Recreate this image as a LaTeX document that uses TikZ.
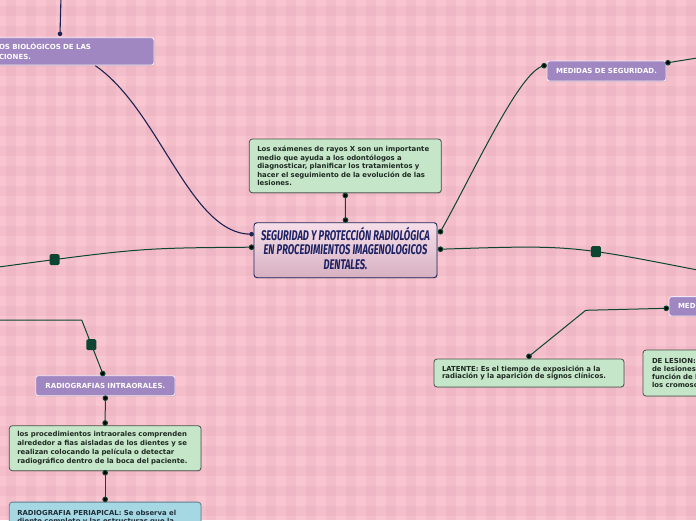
\documentclass[tikz,border=0pt]{standalone}
\usepackage{fontspec}
\usepackage{graphicx}
\setmainfont{DejaVu Sans}
\newfontfamily\titlefont{Fira Sans}
\usetikzlibrary{shadows,calc}
\definecolor{bgpink}{HTML}{F8C5D0}
\definecolor{stripe}{HTML}{E3A5B5}
\definecolor{purpfill}{HTML}{A087C2}
\definecolor{purpborder}{HTML}{F2EAF6}
\definecolor{gfill}{HTML}{C6E6C9}
\definecolor{gborder}{HTML}{4B504B}
\definecolor{gtext}{HTML}{1E2A22}
\definecolor{bfill}{HTML}{A6D8E4}
\definecolor{bborder}{HTML}{5F7F8C}
\definecolor{btext}{HTML}{1F2F3A}
\definecolor{conn}{HTML}{0C4632}
\definecolor{navy}{HTML}{1B2352}
\definecolor{maintop}{HTML}{F6DFE9}
\definecolor{mainbot}{HTML}{D6B0C1}
\definecolor{mainborder}{HTML}{1D2558}
\definecolor{maintext}{HTML}{1C2264}
\pgfdeclarelayer{bglayer}
\pgfdeclarelayer{lines}
\pgfdeclarelayer{top}
\pgfsetlayers{bglayer,lines,main,top}
\tikzset{
  shad/.style={drop shadow={shadow xshift=0.6pt, shadow yshift=-1pt, opacity=0.25}},
  purp/.style={draw=purpborder, line width=0.9pt, fill=purpfill, rounded corners=2.5pt,
    text=white, font=\bfseries\fontsize{7}{9.4}\selectfont, inner ysep=0pt, shad},
  gbox/.style={draw=gborder, line width=0.8pt, fill=gfill, rounded corners=3pt,
    text=gtext, align=left, inner ysep=0pt, inner xsep=8pt, shad},
  bbox/.style={gbox, draw=bborder, fill=bfill, text=btext},
  mainbox/.style={draw=mainborder, line width=0.9pt, top color=maintop, bottom color=mainbot,
    rounded corners=3pt, text=maintext, inner sep=0pt, shad},
  conn/.style={draw=conn, line width=1pt},
  navyconn/.style={draw=navy, line width=1.1pt},
  sqmark/.style={fill=conn, rounded corners=1.5pt, minimum width=10pt, minimum height=11pt, inner sep=0pt},
}
\begin{document}
\begin{tikzpicture}[x=1pt,y=-1pt]
\useasboundingbox (0,0) rectangle (696,520);
\begin{pgfonlayer}{bglayer}
\fill[bgpink] (0,0) rectangle (696,520);
\foreach \i in {0,...,34} \fill[stripe, opacity=0.22] (\i*20+6,0) rectangle ++(10,520);
\foreach \j in {0,...,26} \fill[stripe, opacity=0.22] (0,\j*20+6) rectangle ++(696,10);
\end{pgfonlayer}

% nodes
\node[purp, minimum width=174pt, minimum height=27.3pt, inner xsep=19pt, text width=136pt, align=left] (tl) at (67,51.35)
  {OS BIOLÓGICOS DE LAS\\CIONES.};
\node[purp, minimum width=119pt, minimum height=20pt, inner xsep=0pt] (medidas) at (606.5,71) {MEDIDAS DE SEGURIDAD.};
\node[purp, minimum width=111pt, minimum height=19.3pt, inner xsep=9pt, text width=93pt, align=left] (medi) at (724.5,306.3) {MEDI};
\node[purp, minimum width=139.3pt, minimum height=20pt, inner xsep=0pt] (intra) at (105.35,385.7) {RADIOGRAFIAS INTRAORALES.};

\node[gbox, text width=176pt, minimum height=53.7pt, font=\bfseries\fontsize{6.9}{8.6}\selectfont] (exam) at (345.3,165.9)
  {Los exámenes de rayos X son un importante\\medio que ayuda a los odontólogos a\\diagnosticar, planificar los tratamientos y\\hacer el seguimiento de la evolución de las\\lesiones.};
\node[gbox, text width=174pt, minimum height=28pt, font=\bfseries\fontsize{6.9}{7.8}\selectfont] (lat) at (529,373)
  {LATENTE: Es el tiempo de exposición a la\\radiación y la aparición de signos clínicos.};
\node[gbox, inner xsep=9pt, text width=119pt, minimum height=46pt, font=\bfseries\fontsize{6.9}{7.9}\selectfont] (lesion) at (711.5,373)
  {DE LESION:\\de lesiones\\función de l\\los cromoso};
\node[gbox, text width=175.7pt, minimum height=45pt, font=\bfseries\fontsize{6.9}{8.8}\selectfont] (proc) at (105.15,448.2)
  {los procedimientos intraorales comprenden\\alrededor a fias aisladas de los dientes y se\\realizan colocando la película o detectar\\radiográfico dentro de la boca del paciente.};
\node[bbox, anchor=north, text width=175.7pt, inner ysep=8pt, font=\bfseries\fontsize{6.9}{8.6}\selectfont] (peri) at (105.15,501.7)
  {RADIOGRAFIA PERIAPICAL: Se observa el\\diente completo y las estructuras que la\\\mbox{}\\\mbox{}};

\node[mainbox, minimum width=183pt, minimum height=55pt] (main) at (345.5,250.2)
  {\scalebox{0.67}[1]{\titlefont\bfseries\itshape\fontsize{14}{14.5}\selectfont
   \begin{tabular}{@{}c@{}}SEGURIDAD Y PROTECCIÓN RADIOLÓGICA\\EN PROCEDIMIENTOS IMAGENOLOGICOS\\DENTALES.\end{tabular}}};

% anchor points
\coordinate (tlTop) at (61,-3);
\coordinate (tlD) at ([xshift=-7pt,yshift=3.4pt]tl.north);
\coordinate (tlB) at ([xshift=28pt]tl.south);
\coordinate (mL1) at ([xshift=-2pt,yshift=16pt]main.west);
\coordinate (mL2) at ([xshift=-2pt,yshift=3pt]main.west);
\coordinate (mR1) at ([xshift=3pt,yshift=18.5pt]main.east);
\coordinate (mR2) at ([xshift=3pt,yshift=1pt]main.east);
\coordinate (mT) at ([yshift=2.2pt]main.north);
\coordinate (eB) at ([yshift=-2.3pt]exam.south);
\coordinate (leftEnd) at (-5,267.5);
\coordinate (rightEnd) at (700,270.5);
\coordinate (medL) at ([xshift=-2.5pt,yshift=5.3pt]medidas.west);
\coordinate (medR) at ([xshift=1.5pt,yshift=8.3pt]medidas.east);
\coordinate (medEnd) at (700,57.5);
\coordinate (mediL) at ([xshift=-2.3pt,yshift=-2pt]medi.west);
\coordinate (bend1) at (585.7,310.3);
\coordinate (latT) at ([yshift=2.3pt]lat.north);
\coordinate (leftEnd2) at (-5,320);
\coordinate (bend2) at (81.7,320);
\coordinate (intraT) at ([xshift=-2.6pt,yshift=1.7pt]intra.north);
\coordinate (intraB) at ([yshift=-2pt]intra.south);
\coordinate (procT) at ([yshift=2.3pt]proc.north);
\coordinate (procB) at ([yshift=-1.6pt]proc.south);
\coordinate (periT) at ([yshift=2.3pt]peri.north);

\begin{pgfonlayer}{lines}
\draw[navyconn] (tlTop) -- (tlD);
\draw[navyconn] (tlB) .. controls (160,110) and (190,235) .. (mL1);
\draw[conn] (mL2) .. controls (140,248) .. (leftEnd) node[sqmark, pos=0.84] {};
\draw[conn] (mR2) .. controls (570,245) .. (rightEnd) node[sqmark, pos=0.63] {};
\draw[conn] (mR1) .. controls (475,170) and (520,70) .. (medL);
\draw[conn] (medR) -- (medEnd);
\draw[conn] (eB) -- (mT);
\draw[conn] (mediL) -- (bend1) -- (latT);
\draw[conn] (leftEnd2) -- (bend2) -- node[sqmark, pos=0.46] {} (intraT);
\draw[conn] (intraB) -- (procT);
\draw[conn] (procB) -- (periT);
\end{pgfonlayer}

\begin{pgfonlayer}{top}
\fill[navy] (tlD) circle (2.3pt) (mL1) circle (2.3pt);
\foreach \p in {mL2,mR1,mR2,mT,eB,medL,medR,mediL,latT,intraT,intraB,procT,procB,periT}
  \fill[conn] (\p) circle (2.3pt);
\end{pgfonlayer}
\end{tikzpicture}
\end{document}
